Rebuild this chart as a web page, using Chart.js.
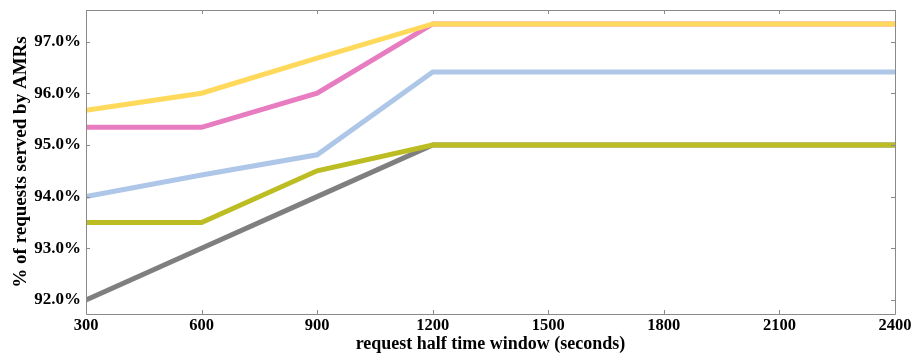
<!DOCTYPE html>
<html>
<head>
<meta charset="utf-8">
<script src="https://cdn.jsdelivr.net/npm/chart.js@4/dist/chart.umd.min.js"></script>
<style>
html,body{margin:0;padding:0;background:#fff;}
#wrap{width:917px;height:358px;position:relative;}
</style>
</head>
<body>
<div id="wrap"><canvas id="c" width="917" height="358"></canvas></div>
<script>
const xValues = [300, 600, 900, 1200, 1500, 1800, 2100, 2400];
const xTicks = [300, 600, 900, 1200, 1500, 1800, 2100, 2400];
const yTicks = [92, 93, 94, 95, 96, 97];
const seriesYellow = [95.67, 96.0, 96.68, 97.34, 97.34, 97.34, 97.34, 97.34];
const seriesPink   = [95.34, 95.34, 96.0, 97.34, 97.34, 97.34, 97.34, 97.34];
const seriesBlue   = [94.0, 94.42, 94.81, 96.41, 96.41, 96.41, 96.41, 96.41];
const seriesOlive  = [93.5, 93.5, 94.5, 95.0, 95.0, 95.0, 95.0, 95.0];
const seriesGrey   = [92.0, 93.0, 94.0, 95.0, 95.0, 95.0, 95.0, 95.0];

const FONT = '"Liberation Serif", "Times New Roman", serif';
const toPts = arr => arr.map((v, i) => ({x: xValues[i], y: v}));

const frame = {
  id: 'frame',
  afterDraw(chart) {
    const {ctx, chartArea: a, scales} = chart;
    ctx.save();
    ctx.strokeStyle = '#8a8a8a';
    ctx.lineWidth = 1;
    ctx.beginPath();
    ctx.rect(Math.round(a.left) + 0.5, Math.round(a.top) + 0.5, Math.round(a.right - a.left), Math.round(a.bottom - a.top));
    ctx.stroke();
    const L = 4;
    ctx.beginPath();
    xTicks.forEach(v => {
      const x = Math.round(scales.x.getPixelForValue(v)) + 0.5;
      ctx.moveTo(x, a.bottom); ctx.lineTo(x, a.bottom - L);
      ctx.moveTo(x, a.top); ctx.lineTo(x, a.top + L);
    });
    yTicks.forEach(v => {
      const y = Math.round(scales.y.getPixelForValue(v)) + 0.5;
      ctx.moveTo(a.left, y); ctx.lineTo(a.left + L, y);
      ctx.moveTo(a.right, y); ctx.lineTo(a.right - L, y);
    });
    ctx.stroke();
    ctx.restore();
  }
};

const mk = (data, color) => ({
  data: toPts(data),
  borderColor: color,
  backgroundColor: color,
  borderWidth: 5,
  pointRadius: 0,
  tension: 0,
  fill: false
});

new Chart(document.getElementById('c'), {
  type: 'line',
  data: {
    datasets: [
      mk(seriesYellow, '#ffd95c'),
      mk(seriesPink, '#e77cc1'),
      mk(seriesBlue, '#aec7e8'),
      mk(seriesOlive, '#bcbd22'),
      mk(seriesGrey, '#7f7f7f')
    ]
  },
  options: {
    responsive: false,
    animation: false,
    layout: {padding: {top: 10, right: 22, left: 10, bottom: 2}},
    plugins: {legend: {display: false}, tooltip: {enabled: false}},
    scales: {
      x: {
        type: 'linear',
        min: 300, max: 2400,
        afterBuildTicks: s => { s.ticks = xTicks.map(v => ({value: v})); },
        afterFit: s => { s.height = 42; s.paddingLeft = 0; s.paddingRight = 0; },
        grid: {display: false, drawTicks: false},
        border: {display: false},
        ticks: {color: '#000', padding: 2, font: {family: FONT, size: 16.5, weight: 'bold'}, maxRotation: 0, callback: v => String(v)},
        title: {display: true, text: 'request half time window (seconds)', color: '#000', padding: {top: 0, bottom: 1}, font: {family: FONT, size: 18, weight: 'bold'}}
      },
      y: {
        min: 91.73, max: 97.61,
        afterBuildTicks: s => { s.ticks = yTicks.map(v => ({value: v})); },
        afterFit: s => { s.width = 76; s.paddingTop = 0; s.paddingBottom = 0; },
        grid: {display: false, drawTicks: false},
        border: {display: false},
        ticks: {color: '#000', padding: 5, font: {family: FONT, size: 17, weight: 'bold'}, callback: v => v.toFixed(1) + '%'},
        title: {display: true, text: '% of requests served by AMRs', color: '#000', padding: {top: 0, bottom: 0}, font: {family: FONT, size: 19, weight: 'bold'}}
      }
    }
  },
  plugins: [frame]
});
</script>
</body>
</html>
